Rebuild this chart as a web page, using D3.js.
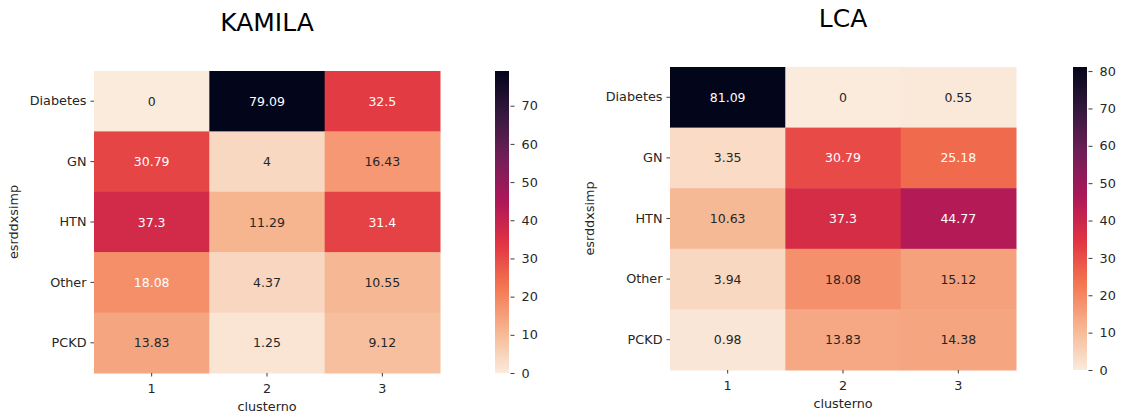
<!DOCTYPE html>
<html>
<head>
<meta charset="utf-8">
<script src="https://cdn.jsdelivr.net/npm/d3@7"></script>
<style>
  html, body { margin: 0; padding: 0; background: #ffffff; }
  svg { display: block; font-family: "DejaVu Sans", sans-serif; }
</style>
</head>
<body>
<svg id="chart" width="1121" height="420"></svg>
<script>
// Diagnosis categories (rows) and cluster numbers (columns)
const diagnoses = ["Diabetes", "GN", "HTN", "Other", "PCKD"];
const clusters = ["1", "2", "3"];

// Percentage of each diagnosis within each cluster
const kamilaValues = [
  [0, 79.09, 32.5],
  [30.79, 4, 16.43],
  [37.3, 11.29, 31.4],
  [18.08, 4.37, 10.55],
  [13.83, 1.25, 9.12]
];
const lcaValues = [
  [81.09, 0, 0.55],
  [3.35, 30.79, 25.18],
  [10.63, 37.3, 44.77],
  [3.94, 18.08, 15.12],
  [0.98, 13.83, 14.38]
];

// Colour bar tick values
const kamilaTicks = [0, 10, 20, 30, 40, 50, 60, 70];
const lcaTicks = [0, 10, 20, 30, 40, 50, 60, 70, 80];

// "rocket" colour map anchors (dark -> light); reversed for use below
const rocketStops = ["#03051a", "#35193e", "#701f57", "#ad1759", "#e13342", "#f37651", "#f6b48f", "#faebdd"];
const rocket = d3.scaleLinear()
  .domain([0, 1/7, 2/7, 3/7, 4/7, 5/7, 6/7, 1])
  .range(rocketStops)
  .interpolate(d3.interpolateRgb);
const rocketR = t => rocket(1 - t);

function luminance(c) {
  const rgb = d3.rgb(c);
  const lin = v => { v /= 255; return v <= 0.03928 ? v / 12.92 : Math.pow((v + 0.055) / 1.055, 2.4); };
  return 0.2126 * lin(rgb.r) + 0.7152 * lin(rgb.g) + 0.0722 * lin(rgb.b);
}

const svg = d3.select("#chart");
const defs = svg.append("defs");
const TEXT = "#262626";
const FS = "12.8px";

function drawHeatmap(opts) {
  const { values, ticks, title, left, right, top, bottom, cbLeft, cbWidth, id } = opts;
  const flat = values.flat();
  const vmin = d3.min(flat), vmax = d3.max(flat);
  const norm = d3.scaleLinear().domain([vmin, vmax]).range([0, 1]);
  const color = v => rocketR(norm(v));

  const x = d3.scaleBand().domain(clusters).range([left, right]);
  const y = d3.scaleBand().domain(diagnoses).range([top, bottom]);

  const g = svg.append("g");

  // cells
  const cells = [];
  values.forEach((row, i) => row.forEach((v, j) => cells.push({ r: diagnoses[i], c: clusters[j], v })));
  g.selectAll("rect.cell").data(cells).join("rect")
    .attr("class", "cell")
    .attr("x", d => x(d.c))
    .attr("y", d => y(d.r))
    .attr("width", x.bandwidth() + 0.5)
    .attr("height", y.bandwidth() + 0.5)
    .attr("fill", d => color(d.v));

  // annotations
  g.selectAll("text.annot").data(cells).join("text")
    .attr("class", "annot")
    .attr("x", d => x(d.c) + x.bandwidth() / 2)
    .attr("y", d => y(d.r) + y.bandwidth() / 2)
    .attr("dy", "0.36em")
    .attr("text-anchor", "middle")
    .attr("font-size", "12.5px")
    .attr("fill", d => luminance(color(d.v)) > 0.4025 ? TEXT : "#ffffff")
    .text(d => d.v);

  // axes
  const xAxis = d3.axisBottom(x).tickSize(3.5).tickPadding(5);
  const gx = g.append("g").attr("transform", `translate(0,${bottom})`).call(xAxis);
  const yAxis = d3.axisLeft(y).tickSize(3.5).tickPadding(4);
  const gy = g.append("g").attr("transform", `translate(${left},0)`).call(yAxis);
  [gx, gy].forEach(a => {
    a.select(".domain").remove();
    a.selectAll(".tick line").attr("stroke", TEXT).attr("stroke-width", 0.9);
    a.selectAll(".tick text").attr("fill", TEXT).attr("font-size", FS).attr("font-family", "DejaVu Sans, sans-serif");
  });
  gx.selectAll(".tick text").attr("dy", "0.9em");

  // axis titles
  g.append("text")
    .attr("x", (left + right) / 2).attr("y", bottom + 38)
    .attr("text-anchor", "middle").attr("font-size", FS).attr("fill", TEXT)
    .text("clusterno");
  g.append("text")
    .attr("transform", `translate(${left - 76},${(top + bottom) / 2}) rotate(-90)`)
    .attr("text-anchor", "middle").attr("font-size", FS).attr("fill", TEXT)
    .text("esrddxsimp");

  // title
  g.append("text")
    .attr("x", (left + right) / 2).attr("y", top - 40)
    .attr("text-anchor", "middle").attr("font-size", "25px").attr("fill", "#000")
    .text(title);

  // colour bar
  const grad = defs.append("linearGradient").attr("id", id)
    .attr("x1", 0).attr("y1", 1).attr("x2", 0).attr("y2", 0);
  d3.range(0, 1.0001, 0.02).forEach(t => {
    grad.append("stop").attr("offset", t).attr("stop-color", rocketR(t));
  });
  g.append("rect")
    .attr("x", cbLeft).attr("y", top)
    .attr("width", cbWidth).attr("height", bottom - top)
    .attr("fill", `url(#${id})`);
  const cy = d3.scaleLinear().domain([vmin, vmax]).range([bottom, top]);
  const cAxis = d3.axisRight(cy).tickValues(ticks).tickSize(4).tickPadding(7);
  const gc = g.append("g").attr("transform", `translate(${cbLeft + cbWidth + 1.5},0)`).call(cAxis);
  gc.select(".domain").remove();
  gc.selectAll(".tick line").attr("stroke", TEXT).attr("stroke-width", 0.9);
  gc.selectAll(".tick text").attr("fill", TEXT).attr("font-size", FS).attr("font-family", "DejaVu Sans, sans-serif");
}

drawHeatmap({ values: kamilaValues, ticks: kamilaTicks, title: "KAMILA",
  left: 94, right: 440, top: 71, bottom: 373, cbLeft: 495, cbWidth: 14, id: "cbKamila" });
drawHeatmap({ values: lcaValues, ticks: lcaTicks, title: "LCA",
  left: 670, right: 1016, top: 67, bottom: 370, cbLeft: 1073, cbWidth: 14, id: "cbLca" });
</script>
</body>
</html>
